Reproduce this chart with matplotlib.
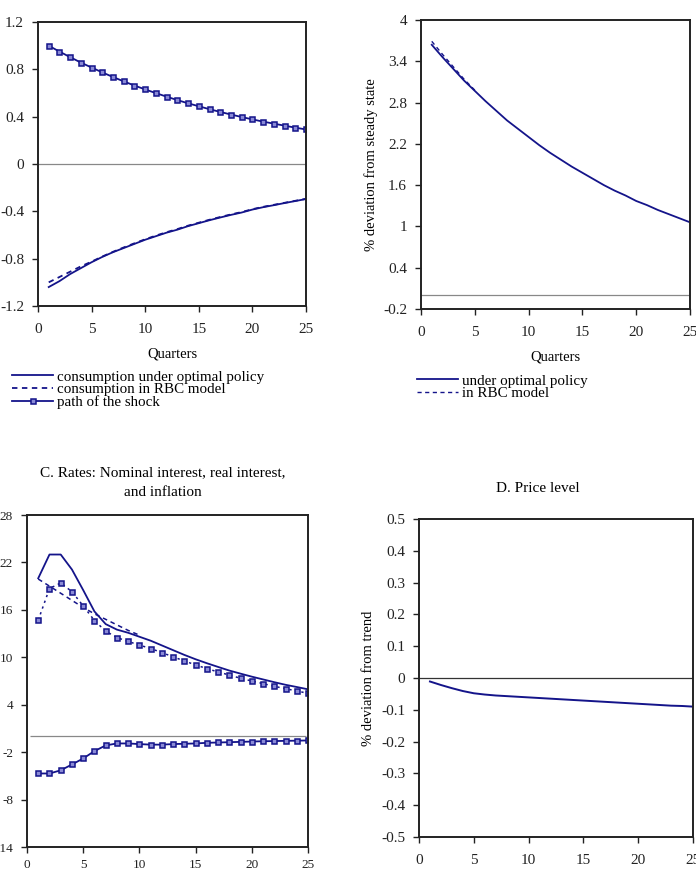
import matplotlib
matplotlib.use('Agg')
import matplotlib.pyplot as plt

plt.rcParams['font.family'] = ['Liberation Serif', 'DejaVu Serif']

# ── Data ──────────────────────────────────────────────────────────────────────
quarters = list(range(1, 26))

# A. consumption and shock
cons_opt = [-1.04, -0.99, -0.93, -0.88, -0.83, -0.785, -0.745, -0.71, -0.675, -0.64,
            -0.61, -0.58, -0.555, -0.525, -0.50, -0.475, -0.452, -0.43, -0.41, -0.385,
            -0.365, -0.348, -0.33, -0.313, -0.296]
cons_rbc = [-1.00, -0.955, -0.91, -0.865, -0.825, -0.782, -0.742, -0.705, -0.67, -0.636,
            -0.605, -0.576, -0.55, -0.521, -0.496, -0.471, -0.448, -0.426, -0.406, -0.382,
            -0.362, -0.345, -0.328, -0.311, -0.294]
shock = [1.0, 0.95, 0.903, 0.857, 0.815, 0.774, 0.735, 0.698, 0.663, 0.630,
         0.599, 0.569, 0.540, 0.513, 0.488, 0.463, 0.440, 0.418, 0.397, 0.377,
         0.358, 0.341, 0.324, 0.307, 0.292]

# B. deviation from steady state
b_opt = [3.64, 3.46, 3.29, 3.12, 2.97, 2.82, 2.68, 2.54, 2.42, 2.30,
         2.18, 2.07, 1.97, 1.87, 1.78, 1.69, 1.60, 1.52, 1.45, 1.37,
         1.31, 1.24, 1.18, 1.12, 1.06]
b_rbc = [3.69, 3.50, 3.32, 3.14, 2.98, 2.83, 2.68, 2.54, 2.42, 2.30,
         2.18, 2.07, 1.97, 1.87, 1.78, 1.69, 1.60, 1.52, 1.45, 1.37,
         1.31, 1.24, 1.18, 1.12, 1.06]

# C. rates
nominal = [20.0, 23.0, 23.0, 21.1, 18.5, 15.8, 14.2, 13.5, 13.1, 12.6,
           12.1, 11.5, 10.9, 10.3, 9.75, 9.25, 8.78, 8.32, 7.93, 7.55,
           7.2, 6.85, 6.52, 6.24, 5.95]
nominal_rbc = [19.9, 19.0, 18.1, 17.2, 16.3, 15.5, 14.8, 14.1, 13.4, 12.8,
               12.2, 11.6, 11.0, 10.4, 9.85, 9.33, 8.85, 8.38, 7.98, 7.6,
               7.24, 6.88, 6.55, 6.26, 5.97]
inflation = [14.7, 18.7, 19.4, 18.3, 16.5, 14.65, 13.3, 12.5, 12.0, 11.55,
             11.1, 10.6, 10.05, 9.54, 9.03, 8.57, 8.14, 7.76, 7.34, 7.0,
             6.67, 6.33, 6.03, 5.74, 5.44]
real_rate = [-4.7, -4.7, -4.3, -3.56, -2.8, -1.87, -1.15, -0.9, -0.9, -0.98,
             -1.05, -1.05, -0.98, -0.94, -0.9, -0.82, -0.78, -0.74, -0.7, -0.66,
             -0.62, -0.6, -0.57, -0.55, -0.52]

# D. price level
price = [-0.011, -0.022, -0.032, -0.041, -0.048, -0.052, -0.055, -0.057, -0.059, -0.061,
         -0.063, -0.065, -0.067, -0.069, -0.071, -0.073, -0.075, -0.077, -0.079, -0.081,
         -0.083, -0.085, -0.087, -0.088, -0.090]

# ── Style ─────────────────────────────────────────────────────────────────────
NAVY = '#14148a'
MFACE = '#8a8ad6'
DASH = (0, (3, 2.5))
W, H = 696, 873

fig = plt.figure(figsize=(W / 100, H / 100), dpi=100)
fig.patch.set_facecolor('white')


def px_axes(left, top, right, bottom):
    return fig.add_axes([left / W, 1 - bottom / H, (right - left) / W, (bottom - top) / H])


def style(ax, yticks, ylim, size=11, xpad=8):
    ax.set_xlim(0, 25)
    ax.set_xticks([0, 5, 10, 15, 20, 25])
    ax.set_ylim(*ylim)
    ax.set_yticks(yticks)
    ax.set_yticklabels([f"{t:g}" for t in yticks])
    for s in ax.spines.values():
        s.set_linewidth(1.4)
        s.set_color('#222222')
    ax.tick_params(direction='out', length=4, width=1, labelsize=size, pad=6,
                   colors='#222222')
    ax.tick_params(axis='x', pad=xpad)


mk = dict(marker='s', markersize=3.6, markerfacecolor=MFACE,
          markeredgecolor=NAVY, markeredgewidth=1.1)
leg_kw = dict(loc='upper left', frameon=False, fontsize=10.8, handlelength=2.75,
              handletextpad=0.27, labelspacing=-0.05, borderpad=0, borderaxespad=0)

# Panel A
axA = px_axes(38, 22, 306, 306)
axA.axhline(0, color='#888888', lw=0.9)
axA.plot(quarters, cons_opt, color=NAVY, lw=1.3, label='consumption under optimal policy')
axA.plot(quarters, cons_rbc, color=NAVY, lw=1.3, ls=DASH, label='consumption in RBC model')
axA.plot(quarters, shock, color=NAVY, lw=1.3, label='path of the shock', **mk)
style(axA, [-1.2, -0.8, -0.4, 0, 0.4, 0.8, 1.2], (-1.2, 1.2))
axA.set_xlabel('Quarters', fontsize=10.5)
axA.xaxis.set_label_coords(0.5, -0.145)
axA.legend(bbox_to_anchor=(-0.097, -0.226), **leg_kw)

# Panel B
axB = px_axes(421, 20, 690, 309)
axB.axhline(0, color='#888888', lw=0.9)
axB.plot(quarters, b_opt, color=NAVY, lw=1.3, label='under optimal policy')
axB.plot(quarters[:5], b_rbc[:5], color=NAVY, lw=1.0, ls=DASH, label='in RBC model')
style(axB, [-0.2, 0.4, 1, 1.6, 2.2, 2.8, 3.4, 4], (-0.2, 4))
axB.set_xlabel('Quarters', fontsize=10.5)
axB.xaxis.set_label_coords(0.5, -0.145)
axB.set_ylabel('% deviation from steady state', fontsize=10.5)
axB.yaxis.set_label_coords(-0.16, 0.5)
axB.legend(bbox_to_anchor=(-0.015, -0.225), **leg_kw)

# Panel C
axC = px_axes(27, 515, 308, 847)
axC.hlines(0, 0.3, 24.8, color='#888888', lw=0.9)
axC.plot(quarters, nominal, color=NAVY, lw=1.3)
axC.plot(quarters[:10], nominal_rbc[:10], color=NAVY, lw=1.1, ls=DASH)
axC.plot(quarters, inflation, color=NAVY, lw=1.1, ls=(0, (1.5, 2.5)), **mk)
axC.plot(quarters, real_rate, color=NAVY, lw=1.3, **mk)
style(axC, [-14, -8, -2, 4, 10, 16, 22, 28], (-14, 28), size=9.5, xpad=5)
fig.text(163 / W, 1 - 473 / H, 'C. Rates: Nominal interest, real interest,',
         ha='center', va='center', fontsize=11)
fig.text(163 / W, 1 - 492 / H, 'and inflation', ha='center', va='center', fontsize=11)

# Panel D
axD = px_axes(419, 519, 693, 837)
axD.axhline(0, color='#333333', lw=0.9)
axD.plot(quarters, price, color=NAVY, lw=1.4)
style(axD, [-0.5, -0.4, -0.3, -0.2, -0.1, 0, 0.1, 0.2, 0.3, 0.4, 0.5], (-0.5, 0.5))
axD.set_ylabel('% deviation from trend', fontsize=10.5)
axD.yaxis.set_label_coords(-0.161, 0.5)
fig.text(538 / W, 1 - 488 / H, 'D. Price level', ha='center', va='center', fontsize=11)

fig.savefig('out.png', dpi=100)
